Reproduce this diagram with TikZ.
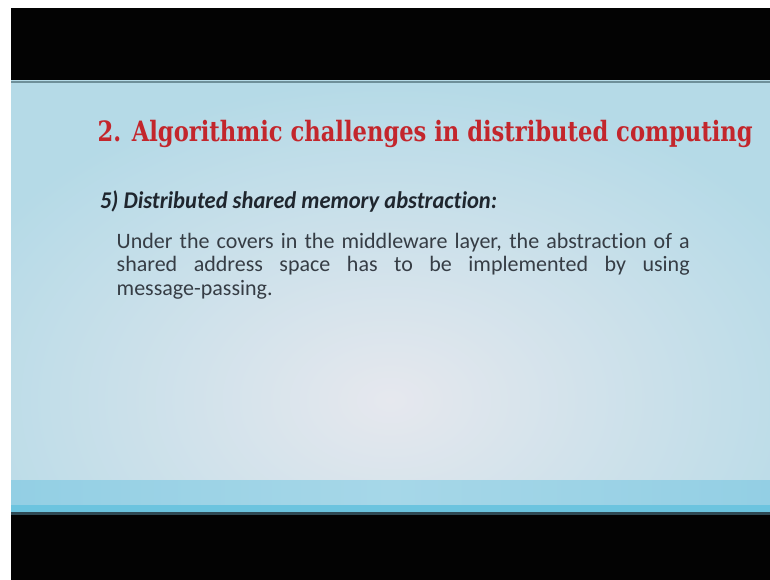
\documentclass[tikz,border=0pt]{standalone}
\usepackage{fontspec}
\usepackage{graphicx}
\setmainfont{Liberation Serif}
\newfontfamily\titlefont{DejaVu Serif Condensed}[BoldFont={DejaVu Serif Condensed Bold}]
\newfontfamily\bodyfont{Carlito}[Ligatures=NoCommon]
\definecolor{frameblack}{HTML}{030303}
\definecolor{slideedge}{HTML}{B5DAE7}
\definecolor{slidecenter}{HTML}{E6E8EE}
\definecolor{bandblue}{HTML}{93CFE4}
\definecolor{bandlight}{HTML}{A6D7E8}
\definecolor{bandline}{HTML}{6CC4DF}
\definecolor{darkline}{HTML}{2F4A55}
\definecolor{topline}{HTML}{6E8F99}
\definecolor{titlered}{HTML}{C3262C}
\definecolor{headink}{HTML}{1F262E}
\definecolor{bodyink}{HTML}{363D45}
\tikzset{
  txt/.style={inner sep=0pt, outer sep=0pt, anchor=base west},
  titletxt/.style={txt, text=titlered, font=\titlefont\bfseries\fontsize{28}{32}\selectfont},
  headtxt/.style={txt, text=headink, font=\bodyfont\bfseries\itshape\fontsize{24}{28}\selectfont},
  bodytxt/.style={txt, text=bodyink, font=\bodyfont\fontsize{22}{25}\selectfont}
}
\begin{document}
\begin{tikzpicture}[x=1pt,y=-1pt]
\useasboundingbox (0,0) rectangle (770,580);
\fill[white] (0,0) rectangle (770,580);
% black letterbox bars
\fill[frameblack] (11,8) rectangle (770,81);
\fill[frameblack] (11,515) rectangle (770,580);
% slide background
\begin{scope}
  \clip (11,81) rectangle (770,480);
  \shade[inner color=slidecenter, outer color=slideedge] (-80,80) rectangle (860,720);
\end{scope}
\fill[topline] (11,81) rectangle (770,83);
% footer band
\shade[left color=bandblue, right color=bandblue, middle color=bandlight] (11,480) rectangle (770,507);
\fill[bandline] (11,505) rectangle (770,512);
\fill[darkline] (11,512) rectangle (770,514.5);
% texts
\node[titletxt] (title) at (97.7,141.7)
  {\resizebox{655pt}{\height}{2. Algorithmic challenges in distributed computing}};
\node[headtxt] (head) at (100,208)
  {\resizebox{397pt}{\height}{5) Distributed shared memory abstraction:}};
\node[bodytxt] (line1) at (116.7,248)
  {\makebox[573pt][s]{Under the covers in the middleware layer, the abstraction of a}};
\node[bodytxt] (line2) at (116.7,271.5)
  {\makebox[573pt][s]{shared address space has to be implemented by using}};
\node[bodytxt] (line3) at (116.7,295) {message-passing.};
\end{tikzpicture}
\end{document}
